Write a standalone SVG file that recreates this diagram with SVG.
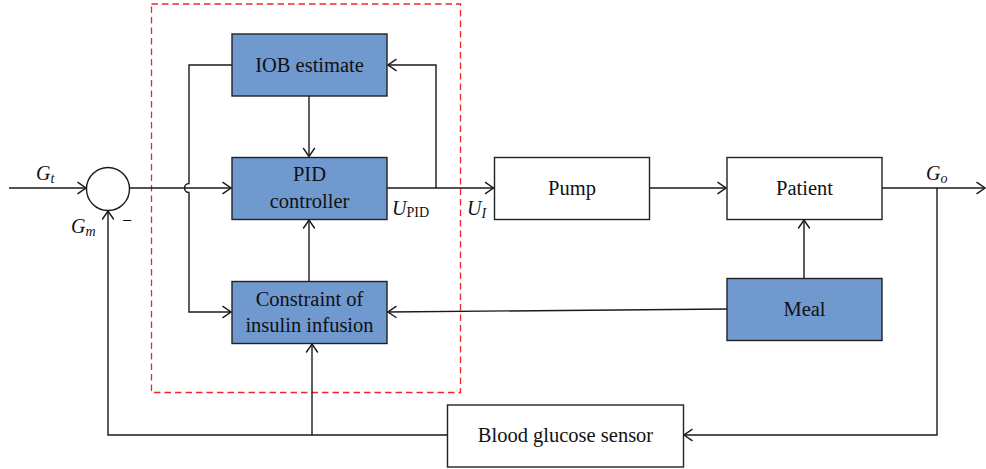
<svg xmlns="http://www.w3.org/2000/svg" width="986" height="469" viewBox="0 0 986 469">
<defs>
<marker id="arr" markerUnits="userSpaceOnUse" markerWidth="11" markerHeight="14" viewBox="0 0 11 14" refX="10" refY="7" orient="auto">
<path d="M1.5,1.2 L10,7 L1.5,12.8" fill="none" stroke="#1a1a1a" stroke-width="1.4"/>
</marker>
<style>
.blk{fill:#7099cf;stroke:#222;stroke-width:1.4}
.wht{fill:#fff;stroke:#222;stroke-width:1.4}
.lbl{font-size:20.5px;fill:#111;text-anchor:middle}
.mat{font-size:20px;fill:#111;font-style:italic}
.sub{font-size:14px}
.ln{fill:none;stroke:#1a1a1a;stroke-width:1.4}
.ar{marker-end:url(#arr)}
</style>
</defs>
<rect width="986" height="469" fill="#fff"/>

<rect id="dashed-region" x="151.5" y="4" width="309" height="388.5" fill="none" stroke="#f0262b" stroke-width="1.3" stroke-dasharray="6.5,4"/>

<g id="connectors">
<path class="ln ar" d="M9,188 H86"/>
<path class="ln ar" d="M130,188 H231"/>
<path class="ln ar" d="M232,65 H189 V183.5 A4.5,4.5 0 0 0 189,192.5 V312 H231"/>
<path class="ln ar" d="M309,96 V156.5"/>
<path class="ln ar" d="M387,188 H493.5"/>
<path class="ln ar" d="M436,188 V65 H388"/>
<path class="ln ar" d="M309,281 V220"/>
<path class="ln ar" d="M649,188 H726"/>
<path class="ln ar" d="M882,188 H985"/>
<path class="ln ar" d="M937,188 V435 H684"/>
<path class="ln ar" d="M804,278 V220"/>
<path class="ln ar" d="M727,309 L388,312"/>
<path class="ln ar" d="M447,435 H108 V211"/>
<path class="ln ar" d="M312,435 V344"/>
</g>

<g id="text-layer" font-family="'Liberation Serif', 'Times New Roman', serif">
<g id="sum-junction">
<circle cx="108" cy="189" r="21.5" fill="#fff" stroke="#1a1a1a" stroke-width="1.4"/>
<text x="123" y="224" font-family="Liberation Sans, sans-serif" font-size="15" fill="#111">–</text>
</g>

<g id="iob-estimate">
<rect class="blk" x="232" y="34" width="155" height="62"/>
<text class="lbl" x="309.5" y="72">IOB estimate</text>
</g>

<g id="pid-controller">
<rect class="blk" x="232" y="157.5" width="155" height="62"/>
<text class="lbl" x="309.5" y="181">PID</text>
<text class="lbl" x="309.5" y="207.5">controller</text>
</g>

<g id="constraint">
<rect class="blk" x="232" y="281.5" width="155" height="62"/>
<text class="lbl" x="309.5" y="306">Constraint of</text>
<text class="lbl" x="309.5" y="332">insulin infusion</text>
</g>

<g id="pump">
<rect class="wht" x="494.5" y="157.5" width="155" height="62"/>
<text class="lbl" x="572" y="194.5">Pump</text>
</g>

<g id="patient">
<rect class="wht" x="727" y="157.5" width="155" height="62"/>
<text class="lbl" x="804.5" y="194.5">Patient</text>
</g>

<g id="meal">
<rect class="blk" x="727" y="278.5" width="155" height="62"/>
<text class="lbl" x="804.5" y="315.5">Meal</text>
</g>

<g id="bg-sensor">
<rect class="wht" x="447.5" y="405" width="236" height="62"/>
<text class="lbl" x="565.5" y="441.5">Blood glucose sensor</text>
</g>

<g id="labels">
<text class="mat" x="36" y="180">G<tspan class="sub" dy="3">t</tspan></text>
<text class="mat" x="71" y="233">G<tspan class="sub" dy="3">m</tspan></text>
<text class="mat" x="926" y="180">G<tspan class="sub" dy="3">o</tspan></text>
<text class="mat" x="392" y="215">U<tspan class="sub" dy="2" font-style="normal">PID</tspan></text>
<text class="mat" x="467" y="215">U<tspan class="sub" dy="3">I</tspan></text>
</g>
</g>
</svg>
